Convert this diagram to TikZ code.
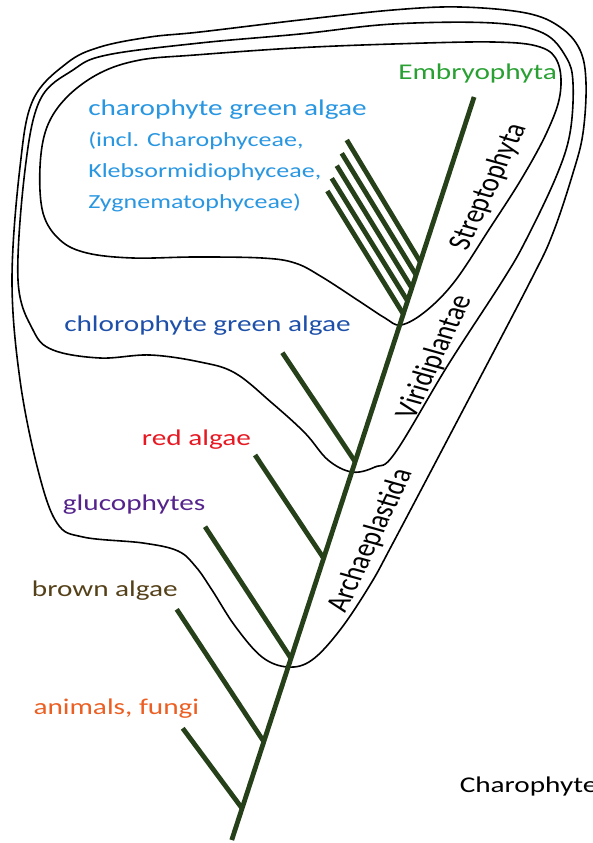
\documentclass[tikz,border=0pt]{standalone}
\usepackage{fontspec}
\setmainfont{Carlito}
\usetikzlibrary{positioning}
\definecolor{stemgreen}{RGB}{38,64,26}
\definecolor{embgreen}{RGB}{40,160,50}
\definecolor{charoblue}{RGB}{40,150,225}
\definecolor{chloroblue}{RGB}{30,80,170}
\definecolor{redalg}{RGB}{230,25,35}
\definecolor{glaucpurple}{RGB}{85,35,140}
\definecolor{brownalg}{RGB}{85,65,25}
\definecolor{opisorange}{RGB}{235,95,35}

\begin{document}
\begin{tikzpicture}[
  x=0.76923pt, y=-1pt, xscale=1.3,
  every node/.style={transform shape},
  clade/.style={draw, line width=1.6pt},
  stem/.style={draw=stemgreen, line width=4.8pt},
  taxon/.style={font=\fontsize{22.5}{31}\selectfont, inner sep=0pt, anchor=base west},
  group/.style={font=\fontsize{25}{28}\selectfont, inner sep=0pt, rotate=70},
]
  \useasboundingbox (0,0) rectangle (593,843);

  % clade outlines
  \draw[clade] plot[smooth cycle, tension=0.6] coordinates {
    (401,325) (426,311) (455,281) (490,228) (522,178) (547,132) (560,95)
    (558,63) (540,47) (493,42) (393,44) (295,48) (195,55) (140,60) (100,73)
    (67,97) (47,127) (40,167) (43,213) (60,240) (87,253) (133,258) (195,257)
    (262,258) (295,263) (322,277) (362,303) (385,318)};
  \draw[clade] plot[smooth cycle, tension=0.6] coordinates {
    (352,472) (375,467) (395,453) (448,365) (503,280) (526,240) (556,177)
    (570,133) (573,83) (566,57) (543,33) (493,23) (393,24) (300,34) (200,43)
    (107,55) (73,70) (40,100) (25,170) (18,280) (33,330) (53,350) (100,358)
    (150,355) (200,362) (235,373) (272,403) (305,433) (328,460)};
  \draw[clade] plot[smooth cycle, tension=0.6] coordinates {
    (288,667) (312,660) (340,630) (370,585) (393,543) (462,412) (531,280)
    (553,233) (573,173) (583,133) (586,83) (580,50) (560,27) (526,13) (460,7)
    (393,10) (300,20) (200,32) (150,37) (100,47) (67,63) (33,100) (20,167)
    (12,280) (20,380) (38,470) (57,523) (83,537) (143,543) (178,551) (196,567)
    (212,590) (235,626) (262,657)};

  % tree
  \coordinate (root)   at (231.7,840);
  \coordinate (top)    at (474,97);
  \coordinate (jOpis)  at (242.0,808.3);
  \coordinate (jBrown) at (263.8,741.7);
  \coordinate (jArch)  at (290.9,658.3);
  \coordinate (jRed)   at (323.6,558.3);
  \coordinate (jViri)  at (355.1,461.7);
  \coordinate (jS1)    at (420.2,262);
  \coordinate (jS2)    at (416.0,275);
  \coordinate (jS3)    at (411.7,288);
  \coordinate (jS4)    at (407.5,301);
  \coordinate (jS5)    at (403.2,314);
  \coordinate (tOpis)  at (182.7,728.3);
  \coordinate (tBrown) at (176.7,609.3);
  \coordinate (tGlauc) at (205,526.7);
  \coordinate (tRed)   at (255,455);
  \coordinate (tChlor) at (282.3,352.7);
  \coordinate (tS1)    at (346.7,140);
  \coordinate (tS2)    at (341.7,153.3);
  \coordinate (tS3)    at (336.7,165.7);
  \coordinate (tS4)    at (331.7,178.3);
  \coordinate (tS5)    at (327.3,191);

  \draw[stem] (root) -- (top);
  \draw[stem] (tOpis) -- (jOpis);
  \draw[stem] (tBrown) -- (jBrown);
  \draw[stem] (tGlauc) -- (jArch);
  \draw[stem] (tRed) -- (jRed);
  \draw[stem] (tChlor) -- (jViri);
  \draw[stem] (tS1) -- (jS1);
  \draw[stem] (tS2) -- (jS2);
  \draw[stem] (tS3) -- (jS3);
  \draw[stem] (tS4) -- (jS4);
  \draw[stem] (tS5) -- (jS5);

  % taxa
  \node[taxon, text=embgreen] (emb) at (398,79) {Embryophyta};
  \node[taxon, text=charoblue, anchor=north west, align=left,
        font=\fontsize{20}{31}\selectfont] (charo) at (88,100)
    {{\fontsize{22.5}{31}\selectfont charophyte green algae}\\(incl. Charophyceae,\\Klebsormidiophyceae,\\Zygnematophyceae)};
  \node[taxon, text=chloroblue] (chlor) at (64,331) {chlorophyte green algae};
  \node[taxon, text=redalg] (red) at (141.7,445) {red algae};
  \node[taxon, text=glaucpurple] (glauc) at (62.7,510) {glucophytes};
  \node[taxon, text=brownalg] (brown) at (31.7,596) {brown algae};
  \node[taxon, text=opisorange] (opis) at (33.3,714) {animals, fungi};
  \node[taxon] (title) at (459.5,792) {Charophyte};

  % clade names
  \node[group] (strep) at (489,187) {Streptophyta};
  \node[group] (viri) at (435,357) {Viridiplantae};
  \node[group] (arch) at (371,541) {Archaeplastida};
\end{tikzpicture}
\end{document}
